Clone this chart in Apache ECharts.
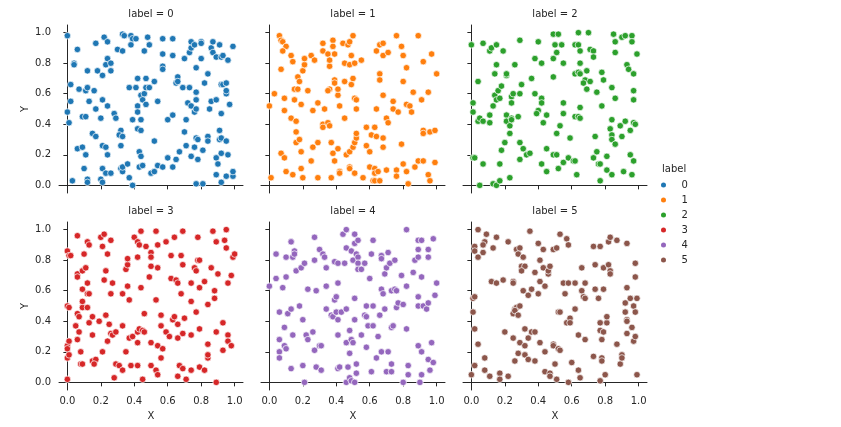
<!DOCTYPE html>
<html>
<head>
<meta charset="utf-8">
<script src="https://cdn.jsdelivr.net/npm/echarts@6/dist/echarts.min.js"></script>
<style>
html, body { margin: 0; padding: 0; background: #fff; }
#chart { width: 841px; height: 427px; }
</style>
</head>
<body>
<div id="chart"></div>
<script>
// facet labels, colours and tick values
var labels = ['0', '1', '2', '3', '4', '5'];
var colors = ['#1f77b4', '#ff7f0e', '#2ca02c', '#d62728', '#9467bd', '#8c564b'];
var tickValues = [0, 0.2, 0.4, 0.6, 0.8, 1.0];

// points, [X, Y]
var label0 = [[0.00,0.98],[0.06,0.89],[0.04,0.80],[0.04,0.79],[0.02,0.66],[0.02,0.55],[0.00,0.48],[0.01,0.41],[0.03,0.03],[0.06,0.24],[0.09,0.25],[0.11,0.20],[0.10,0.11],[0.12,0.04],[0.12,0.02],[0.09,0.45],[0.11,0.45],[0.07,0.63],[0.11,0.62],[0.12,0.64],[0.13,0.55],[0.12,0.75],[0.17,0.93],[0.16,0.62],[0.17,0.50],[0.15,0.34],[0.17,0.32],[0.18,0.75],[0.21,0.56],[0.20,0.44],[0.22,0.97],[0.24,0.94],[0.21,0.72],[0.23,0.79],[0.24,0.83],[0.26,0.80],[0.26,0.75],[0.24,0.52],[0.21,0.26],[0.23,0.25],[0.24,0.20],[0.20,0.04],[0.21,0.02],[0.21,0.11],[0.23,0.08],[0.26,0.08],[0.28,0.47],[0.29,0.44],[0.30,0.89],[0.33,0.99],[0.34,0.98],[0.33,0.88],[0.32,0.36],[0.31,0.33],[0.33,0.32],[0.32,0.26],[0.32,0.11],[0.33,0.09],[0.33,0.12],[0.36,0.14],[0.37,0.05],[0.39,0.00],[0.37,0.64],[0.38,0.98],[0.39,0.96],[0.41,0.96],[0.38,0.92],[0.39,0.43],[0.41,0.64],[0.42,0.70],[0.42,0.52],[0.42,0.48],[0.44,0.43],[0.42,0.37],[0.44,0.36],[0.43,0.22],[0.44,0.19],[0.43,0.12],[0.45,0.13],[0.44,0.59],[0.46,0.60],[0.45,0.56],[0.47,0.53],[0.47,0.70],[0.47,0.64],[0.49,0.64],[0.46,0.88],[0.48,0.97],[0.49,0.92],[0.50,0.08],[0.52,0.09],[0.52,0.68],[0.52,0.29],[0.54,0.55],[0.54,0.13],[0.57,0.12],[0.57,0.96],[0.57,0.78],[0.57,0.76],[0.57,0.86],[0.60,0.43],[0.60,0.18],[0.63,0.96],[0.63,0.85],[0.63,0.46],[0.63,0.12],[0.65,0.17],[0.65,0.67],[0.66,0.71],[0.66,0.68],[0.67,0.22],[0.69,0.64],[0.70,0.83],[0.71,0.43],[0.70,0.35],[0.71,0.26],[0.72,0.54],[0.73,0.64],[0.73,0.87],[0.74,0.90],[0.74,0.94],[0.76,0.92],[0.74,0.52],[0.76,0.48],[0.77,0.50],[0.77,0.56],[0.77,0.61],[0.77,0.77],[0.74,0.19],[0.76,0.25],[0.77,0.31],[0.78,0.30],[0.78,0.17],[0.77,0.01],[0.80,0.94],[0.80,0.93],[0.80,0.83],[0.81,0.01],[0.81,0.23],[0.82,0.67],[0.84,0.73],[0.84,0.32],[0.84,0.29],[0.85,0.50],[0.86,0.55],[0.86,0.90],[0.87,0.94],[0.87,0.87],[0.89,0.84],[0.89,0.56],[0.89,0.18],[0.89,0.07],[0.90,0.14],[0.91,0.36],[0.91,0.92],[0.91,0.30],[0.92,0.31],[0.92,0.47],[0.92,0.02],[0.92,0.21],[0.92,0.66],[0.93,0.66],[0.92,0.84],[0.93,0.85],[0.95,0.67],[0.95,0.60],[0.95,0.62],[0.95,0.29],[0.95,0.06],[0.96,0.82],[0.96,0.20],[0.97,0.53],[0.99,0.06],[0.99,0.09],[0.99,0.91]];
var label1 = [[0.06,0.98],[0.07,0.95],[0.08,0.94],[0.10,0.91],[0.08,0.88],[0.07,0.76],[0.13,0.85],[0.14,0.81],[0.03,0.60],[0.00,0.52],[0.09,0.57],[0.09,0.49],[0.13,0.44],[0.16,0.42],[0.16,0.35],[0.16,0.28],[0.18,0.30],[0.19,0.22],[0.07,0.21],[0.09,0.18],[0.10,0.09],[0.01,0.05],[0.14,0.07],[0.19,0.11],[0.20,0.05],[0.15,0.56],[0.15,0.63],[0.17,0.63],[0.17,0.71],[0.18,0.68],[0.19,0.53],[0.20,0.75],[0.21,0.79],[0.21,0.83],[0.23,0.62],[0.25,0.85],[0.27,0.82],[0.26,0.49],[0.29,0.54],[0.26,0.25],[0.25,0.16],[0.29,0.28],[0.29,0.05],[0.32,0.93],[0.32,0.88],[0.33,0.50],[0.32,0.40],[0.32,0.38],[0.35,0.86],[0.36,0.78],[0.36,0.82],[0.35,0.41],[0.36,0.39],[0.36,0.63],[0.35,0.62],[0.38,0.95],[0.38,0.91],[0.39,0.86],[0.39,0.69],[0.39,0.67],[0.41,0.59],[0.41,0.63],[0.42,0.52],[0.37,0.28],[0.38,0.21],[0.39,0.16],[0.41,0.24],[0.37,0.05],[0.42,0.09],[0.42,0.08],[0.44,0.93],[0.45,0.44],[0.45,0.80],[0.45,0.68],[0.47,0.92],[0.48,0.94],[0.48,0.79],[0.49,0.85],[0.50,0.98],[0.49,0.66],[0.50,0.70],[0.51,0.80],[0.51,0.57],[0.52,0.56],[0.52,0.50],[0.55,0.82],[0.46,0.20],[0.48,0.22],[0.50,0.25],[0.51,0.28],[0.52,0.31],[0.52,0.34],[0.48,0.12],[0.48,0.11],[0.51,0.08],[0.56,0.05],[0.58,0.38],[0.58,0.26],[0.60,0.22],[0.61,0.33],[0.60,0.12],[0.63,0.11],[0.63,0.08],[0.62,0.03],[0.63,0.03],[0.66,0.03],[0.65,0.09],[0.63,0.38],[0.64,0.32],[0.64,0.50],[0.64,0.88],[0.66,0.92],[0.68,0.93],[0.68,0.85],[0.71,0.87],[0.66,0.73],[0.66,0.69],[0.68,0.59],[0.68,0.31],[0.68,0.25],[0.70,0.44],[0.71,0.41],[0.70,0.10],[0.74,0.55],[0.74,0.50],[0.77,0.48],[0.76,0.98],[0.76,0.10],[0.76,0.06],[0.79,0.91],[0.80,0.85],[0.82,0.77],[0.80,0.68],[0.82,0.53],[0.84,0.52],[0.85,0.48],[0.86,0.61],[0.79,0.27],[0.80,0.14],[0.82,0.09],[0.83,0.01],[0.87,0.12],[0.89,0.98],[0.89,0.16],[0.92,0.16],[0.91,0.56],[0.92,0.81],[0.95,0.61],[0.97,0.86],[0.92,0.36],[0.92,0.34],[0.96,0.35],[0.99,0.36],[0.95,0.07],[0.96,0.03],[0.99,0.15],[1.00,0.73]];
var label2 = [[0.00,0.92],[0.07,0.93],[0.01,0.54],[0.01,0.48],[0.04,0.68],[0.04,0.42],[0.05,0.44],[0.07,0.42],[0.01,0.18],[0.02,0.18],[0.07,0.14],[0.05,0.00],[0.11,0.88],[0.12,0.90],[0.15,0.92],[0.19,0.88],[0.15,0.79],[0.14,0.73],[0.14,0.59],[0.15,0.56],[0.16,0.62],[0.17,0.57],[0.18,0.65],[0.13,0.52],[0.11,0.46],[0.11,0.41],[0.13,0.01],[0.15,0.00],[0.17,0.03],[0.17,0.14],[0.18,0.23],[0.20,0.28],[0.23,0.34],[0.23,0.05],[0.21,0.46],[0.21,0.42],[0.23,0.39],[0.24,0.44],[0.24,0.43],[0.21,0.72],[0.21,0.73],[0.24,0.58],[0.25,0.60],[0.24,0.54],[0.26,0.79],[0.29,0.95],[0.28,0.45],[0.29,0.60],[0.30,0.66],[0.29,0.28],[0.31,0.24],[0.29,0.17],[0.33,0.20],[0.35,0.21],[0.36,0.70],[0.38,0.83],[0.38,0.60],[0.40,0.94],[0.42,0.80],[0.42,0.57],[0.42,0.54],[0.40,0.49],[0.39,0.47],[0.43,0.41],[0.45,0.46],[0.42,0.14],[0.45,0.24],[0.45,0.09],[0.49,0.83],[0.49,0.99],[0.52,0.99],[0.50,0.92],[0.51,0.87],[0.49,0.71],[0.54,0.92],[0.55,0.80],[0.55,0.54],[0.55,0.47],[0.53,0.39],[0.51,0.34],[0.49,0.20],[0.51,0.20],[0.52,0.11],[0.55,0.15],[0.58,0.18],[0.59,0.31],[0.61,0.16],[0.62,0.16],[0.63,0.07],[0.62,0.92],[0.64,0.92],[0.64,1.00],[0.65,0.88],[0.65,0.80],[0.62,0.73],[0.64,0.74],[0.65,0.73],[0.68,0.69],[0.67,0.67],[0.69,0.75],[0.69,0.63],[0.71,0.68],[0.62,0.45],[0.64,0.45],[0.65,0.44],[0.65,0.51],[0.70,1.00],[0.71,0.89],[0.73,0.88],[0.73,0.84],[0.75,0.61],[0.78,0.74],[0.79,0.69],[0.78,0.52],[0.74,0.32],[0.75,0.22],[0.73,0.18],[0.76,0.14],[0.77,0.14],[0.77,0.03],[0.81,0.19],[0.81,0.10],[0.84,0.64],[0.86,0.57],[0.84,0.43],[0.83,0.37],[0.84,0.33],[0.84,0.30],[0.86,0.27],[0.84,0.07],[0.85,0.99],[0.86,0.94],[0.86,0.87],[0.90,0.97],[0.92,0.98],[0.96,0.98],[0.96,0.94],[0.99,0.86],[0.93,0.79],[0.94,0.76],[0.97,0.73],[0.97,0.62],[0.97,0.56],[0.89,0.39],[0.90,0.32],[0.92,0.42],[0.95,0.36],[0.97,0.41],[0.98,0.40],[0.95,0.20],[0.97,0.16],[0.91,0.09],[0.96,0.07]];
var label3 = [[0.00,0.86],[0.01,0.83],[0.02,0.83],[0.00,0.50],[0.01,0.49],[0.00,0.24],[0.00,0.22],[0.01,0.27],[0.00,0.16],[0.01,0.18],[0.00,0.02],[0.05,0.37],[0.06,0.96],[0.06,0.71],[0.06,0.69],[0.06,0.45],[0.07,0.43],[0.07,0.33],[0.06,0.28],[0.08,0.20],[0.08,0.12],[0.09,0.12],[0.09,0.49],[0.09,0.53],[0.09,0.61],[0.09,0.73],[0.10,0.84],[0.11,0.75],[0.12,0.65],[0.12,0.58],[0.13,0.58],[0.12,0.49],[0.13,0.39],[0.12,0.92],[0.13,0.90],[0.15,0.31],[0.15,0.43],[0.15,0.14],[0.17,0.15],[0.16,0.12],[0.19,0.40],[0.21,0.20],[0.20,0.95],[0.21,0.89],[0.22,0.97],[0.22,0.67],[0.23,0.44],[0.23,0.73],[0.24,0.27],[0.24,0.84],[0.25,0.38],[0.26,0.58],[0.26,0.32],[0.27,0.31],[0.26,0.93],[0.27,0.65],[0.29,0.12],[0.28,0.03],[0.29,0.33],[0.31,0.11],[0.33,0.37],[0.33,0.58],[0.33,0.08],[0.35,0.20],[0.35,0.74],[0.36,0.77],[0.36,0.81],[0.36,0.63],[0.37,0.54],[0.37,0.29],[0.38,0.11],[0.39,0.30],[0.40,0.95],[0.42,0.11],[0.42,0.26],[0.42,0.33],[0.43,0.35],[0.42,0.92],[0.43,0.90],[0.42,0.82],[0.44,0.62],[0.44,0.99],[0.45,0.34],[0.46,0.33],[0.46,0.45],[0.47,0.89],[0.45,0.02],[0.49,0.69],[0.50,0.26],[0.50,0.11],[0.50,0.85],[0.50,0.82],[0.50,0.76],[0.53,0.99],[0.53,0.54],[0.53,0.08],[0.54,0.05],[0.54,0.75],[0.54,0.90],[0.54,0.24],[0.56,0.16],[0.57,0.22],[0.56,0.44],[0.56,0.37],[0.59,0.92],[0.59,0.33],[0.61,0.30],[0.62,0.83],[0.62,0.68],[0.63,0.41],[0.64,0.43],[0.65,0.67],[0.64,0.95],[0.66,0.38],[0.66,0.29],[0.66,0.65],[0.66,0.04],[0.67,0.11],[0.68,0.83],[0.68,0.58],[0.69,0.99],[0.69,0.77],[0.69,0.32],[0.69,0.09],[0.70,0.42],[0.71,0.02],[0.74,0.65],[0.74,0.53],[0.74,0.31],[0.74,0.08],[0.76,0.75],[0.77,0.73],[0.77,0.46],[0.78,0.95],[0.78,0.80],[0.79,0.80],[0.79,0.62],[0.79,0.35],[0.79,0.10],[0.82,0.66],[0.82,0.08],[0.84,0.51],[0.84,0.25],[0.84,0.16],[0.84,0.18],[0.86,0.75],[0.87,0.99],[0.88,0.60],[0.88,0.55],[0.89,0.92],[0.89,0.00],[0.89,0.33],[0.90,0.71],[0.93,0.39],[0.93,0.21],[0.94,0.93],[0.95,0.88],[0.95,1.00],[0.96,0.31],[0.96,0.27],[0.96,0.65],[0.98,0.70],[0.98,0.24],[0.99,0.82],[1.00,0.84]];
var label4 = [[0.00,0.63],[0.04,0.84],[0.04,0.68],[0.06,0.46],[0.08,0.62],[0.10,0.69],[0.10,0.82],[0.06,0.28],[0.06,0.20],[0.06,0.16],[0.09,0.24],[0.10,0.22],[0.09,0.36],[0.11,0.45],[0.13,0.48],[0.13,0.92],[0.13,0.92],[0.15,0.86],[0.14,0.82],[0.15,0.84],[0.16,0.73],[0.14,0.31],[0.13,0.09],[0.18,0.50],[0.19,0.75],[0.20,0.41],[0.21,0.78],[0.20,0.11],[0.21,0.00],[0.22,0.31],[0.23,0.28],[0.23,0.61],[0.26,0.33],[0.27,0.80],[0.27,0.95],[0.27,0.21],[0.28,0.10],[0.28,0.60],[0.30,0.87],[0.30,0.24],[0.31,0.24],[0.32,0.84],[0.33,0.82],[0.31,0.08],[0.34,0.63],[0.34,0.75],[0.34,0.48],[0.37,0.44],[0.38,0.43],[0.39,0.54],[0.39,0.79],[0.40,0.46],[0.40,0.56],[0.41,0.41],[0.41,0.78],[0.41,0.65],[0.41,0.31],[0.41,0.09],[0.42,0.10],[0.43,0.46],[0.44,0.97],[0.46,1.00],[0.45,0.78],[0.46,0.88],[0.46,0.48],[0.46,0.26],[0.47,0.10],[0.46,0.00],[0.48,0.03],[0.49,0.01],[0.48,0.34],[0.48,0.19],[0.49,0.86],[0.49,0.28],[0.50,0.26],[0.50,0.80],[0.51,0.97],[0.51,0.91],[0.51,0.55],[0.51,0.41],[0.52,0.12],[0.51,0.00],[0.52,0.06],[0.52,0.84],[0.53,0.93],[0.53,0.82],[0.53,0.78],[0.53,0.74],[0.55,0.74],[0.55,0.31],[0.57,0.78],[0.57,0.44],[0.58,0.43],[0.58,0.50],[0.58,0.23],[0.59,0.37],[0.60,0.68],[0.61,0.84],[0.61,0.07],[0.62,0.93],[0.62,0.50],[0.62,0.37],[0.64,0.16],[0.65,0.30],[0.66,0.44],[0.67,0.83],[0.67,0.81],[0.67,0.61],[0.68,0.58],[0.67,0.20],[0.69,0.48],[0.69,0.71],[0.70,0.07],[0.70,0.75],[0.71,0.85],[0.71,0.20],[0.72,0.78],[0.73,0.60],[0.73,0.12],[0.73,0.07],[0.73,0.36],[0.74,0.37],[0.75,0.80],[0.75,0.61],[0.76,0.60],[0.76,0.49],[0.77,0.52],[0.79,0.70],[0.80,0.51],[0.80,0.00],[0.82,0.35],[0.82,0.63],[0.82,1.00],[0.83,0.11],[0.83,0.05],[0.86,0.72],[0.87,0.80],[0.89,0.93],[0.91,0.93],[0.89,0.87],[0.89,0.82],[0.89,0.56],[0.89,0.50],[0.89,0.24],[0.91,0.20],[0.91,0.69],[0.92,0.50],[0.94,0.48],[0.90,0.00],[0.91,0.05],[0.95,0.15],[0.95,0.87],[0.95,0.82],[0.95,0.52],[0.96,0.08],[0.97,0.26],[0.98,0.94],[0.98,0.13],[0.99,0.57],[1.00,0.65]];
var label5 = [[0.04,1.00],[0.09,0.97],[0.15,0.95],[0.08,0.92],[0.07,0.90],[0.02,0.89],[0.13,0.88],[0.02,0.86],[0.07,0.85],[0.04,0.82],[0.22,0.92],[0.35,0.99],[0.12,0.66],[0.15,0.65],[0.19,0.67],[0.01,0.55],[0.02,0.56],[0.01,0.46],[0.02,0.35],[0.04,0.25],[0.08,0.16],[0.02,0.11],[0.00,0.05],[0.08,0.08],[0.11,0.04],[0.17,0.06],[0.17,0.02],[0.22,0.04],[0.20,0.33],[0.25,0.66],[0.25,0.65],[0.25,0.45],[0.26,0.48],[0.27,0.49],[0.26,0.47],[0.28,0.44],[0.29,0.50],[0.25,0.29],[0.26,0.14],[0.28,0.19],[0.29,0.26],[0.27,0.87],[0.29,0.88],[0.28,0.84],[0.31,0.82],[0.30,0.76],[0.32,0.76],[0.30,0.73],[0.31,0.60],[0.32,0.35],[0.34,0.29],[0.32,0.24],[0.32,0.18],[0.34,0.15],[0.34,0.57],[0.36,0.61],[0.36,0.33],[0.38,0.33],[0.38,0.14],[0.38,0.72],[0.40,0.91],[0.41,0.80],[0.40,0.58],[0.41,0.66],[0.43,0.75],[0.43,0.87],[0.44,0.63],[0.46,0.71],[0.46,0.73],[0.47,0.76],[0.41,0.26],[0.44,0.20],[0.44,0.07],[0.47,0.06],[0.47,0.04],[0.49,0.25],[0.49,0.24],[0.50,0.12],[0.51,0.02],[0.52,0.22],[0.53,0.21],[0.49,0.87],[0.51,0.88],[0.53,0.97],[0.57,0.94],[0.58,0.90],[0.55,0.65],[0.58,0.65],[0.56,0.58],[0.52,0.46],[0.53,0.46],[0.57,0.39],[0.59,0.42],[0.59,0.39],[0.58,0.00],[0.60,0.13],[0.62,0.65],[0.62,0.48],[0.64,0.31],[0.64,0.08],[0.65,0.03],[0.66,0.75],[0.66,0.60],[0.67,0.56],[0.68,0.55],[0.68,0.65],[0.68,0.28],[0.73,0.89],[0.77,0.89],[0.74,0.77],[0.74,0.61],[0.76,0.55],[0.73,0.17],[0.79,0.75],[0.79,0.61],[0.82,0.92],[0.82,0.77],[0.83,0.73],[0.83,0.71],[0.83,0.95],[0.87,0.93],[0.93,0.91],[0.77,0.39],[0.81,0.39],[0.81,0.43],[0.77,0.34],[0.79,0.33],[0.78,0.28],[0.78,0.16],[0.78,0.14],[0.80,0.05],[0.77,0.01],[0.87,0.25],[0.89,0.12],[0.90,0.18],[0.90,0.16],[0.92,0.52],[0.92,0.46],[0.93,0.41],[0.93,0.40],[0.93,0.32],[0.93,0.62],[0.95,0.55],[0.96,0.36],[0.97,0.50],[0.98,0.46],[0.97,0.27],[0.98,0.30],[0.99,0.55],[0.98,0.69],[0.98,0.78],[0.99,0.05]];

var points = [label0, label1, label2, label3, label4, label5];

var ink = '#262626';
var font = 'DejaVu Sans';
var lefts = [59, 261, 463];
var tops = [25, 222];
var gw = 184, gh = 168;

var chart = echarts.init(document.getElementById('chart'));

var grids = [], xAxes = [], yAxes = [], series = [], texts = [];
for (var i = 0; i < 6; i++) {
    var col = i % 3, row = Math.floor(i / 3);
    grids.push({ left: lefts[col], top: tops[row], width: gw, height: gh });
    xAxes.push({
        type: 'value', gridIndex: i, min: -0.05, max: 1.05,
        name: row === 1 ? 'X' : '', nameLocation: 'middle', nameGap: 21,
        nameTextStyle: { color: ink, fontSize: 10, fontFamily: font },
        axisLine: { show: true, lineStyle: { color: ink, width: 1 } },
        axisTick: { show: true, customValues: tickValues, length: 4, lineStyle: { color: ink } },
        axisLabel: {
            show: row === 1, customValues: tickValues, margin: 6,
            color: ink, fontSize: 10, fontFamily: font,
            formatter: function (v) { return v.toFixed(1); }
        },
        splitLine: { show: false }
    });
    yAxes.push({
        type: 'value', gridIndex: i, min: -0.05, max: 1.05,
        name: col === 0 ? 'Y' : '', nameLocation: 'middle', nameGap: 29,
        nameTextStyle: { color: ink, fontSize: 10, fontFamily: font },
        axisLine: { show: true, lineStyle: { color: ink, width: 1 } },
        axisTick: { show: true, customValues: tickValues, length: 4, lineStyle: { color: ink } },
        axisLabel: {
            show: col === 0, customValues: tickValues, margin: 8,
            color: ink, fontSize: 10, fontFamily: font,
            formatter: function (v) { return v.toFixed(1); }
        },
        splitLine: { show: false }
    });
    series.push({
        type: 'scatter', name: labels[i], xAxisIndex: i, yAxisIndex: i,
        data: points[i], symbolSize: 6.5,
        itemStyle: { color: colors[i], borderColor: '#fff', borderWidth: 0.7, opacity: 1 }
    });
    texts.push({
        type: 'text', x: lefts[col] + gw / 2, y: row === 0 ? 14 : 211,
        style: { text: 'label = ' + labels[i], fill: ink, font: '10px "DejaVu Sans"', align: 'center', verticalAlign: 'middle' }
    });
}
texts.push({
    type: 'text', x: 662, y: 169,
    style: { text: 'label', fill: ink, font: '10px "DejaVu Sans"', align: 'left', verticalAlign: 'middle' }
});

var option = {
    animation: false,
    backgroundColor: '#fff',
    grid: grids,
    xAxis: xAxes,
    yAxis: yAxes,
    series: series,
    graphic: texts,
    legend: {
        orient: 'vertical', left: 654, top: 175,
        itemWidth: 26, itemHeight: 7, itemGap: 5, icon: 'circle',
        data: labels,
        textStyle: { color: ink, fontSize: 10, fontFamily: font, lineHeight: 10 }
    }
};
chart.setOption(option);
</script>
</body>
</html>
